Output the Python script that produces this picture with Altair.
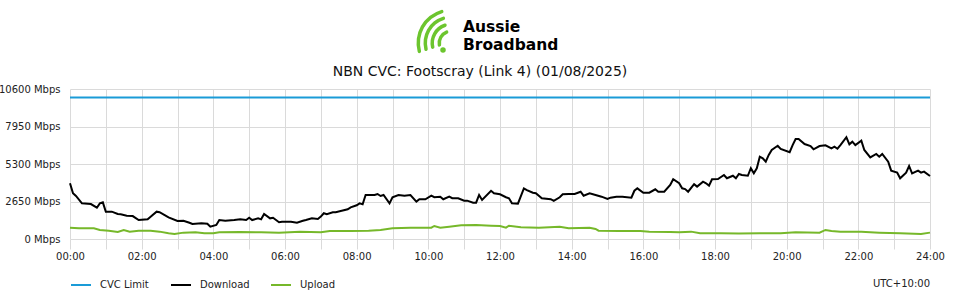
import altair as alt
import pandas as pd

TITLE = "NBN CVC: Footscray (Link 4) (01/08/2025)"
SERIES = ["CVC Limit", "Download", "Upload"]
COLORS = ["#1a9bd7", "#000000", "#76b82a"]

cvc_times = ["00:00", "24:00"]
cvc_values = [10000, 10000]

download_times = [
    "00:00", "00:05", "00:10", "00:20", "00:35", "00:45", "00:50", "00:55", "01:00", "01:10",
    "01:20", "01:25", "01:35", "01:45", "01:55", "02:10", "02:15", "02:25", "02:30", "02:40",
    "02:45", "03:00", "03:10", "03:20", "03:25", "03:40", "03:50", "03:55", "04:05", "04:10",
    "04:20", "04:35", "04:45", "04:55", "05:00", "05:05", "05:15", "05:20", "05:25", "05:35",
    "05:40", "05:50", "05:55", "06:10", "06:20", "06:30", "06:35", "06:45", "06:55", "07:00",
    "07:05", "07:10", "07:20", "07:25", "07:35", "07:45", "07:50", "08:00", "08:05", "08:10",
    "08:15", "08:20", "08:30", "08:35", "08:40", "08:45", "08:55", "09:00", "09:10", "09:20",
    "09:30", "09:40", "09:45", "09:55", "10:05", "10:10", "10:20", "10:25", "10:35", "10:40",
    "10:50", "11:00", "11:05", "11:15", "11:20", "11:25", "11:30", "11:45", "11:50", "12:00",
    "12:10", "12:15", "12:20", "12:30", "12:40", "12:45", "12:55", "13:00", "13:10", "13:25",
    "13:30", "13:40", "13:45", "13:55", "14:05", "14:15", "14:20", "14:30", "14:40", "14:50",
    "15:00", "15:05", "15:15", "15:25", "15:40", "15:45", "15:50", "16:00", "16:10", "16:20",
    "16:25", "16:35", "16:45", "16:50", "17:00", "17:05", "17:10", "17:15", "17:25", "17:30",
    "17:40", "17:45", "17:50", "17:55", "18:05", "18:15", "18:20", "18:30", "18:35", "18:40",
    "18:45", "18:55", "19:00", "19:05", "19:10", "19:15", "19:20", "19:25", "19:30", "19:35",
    "19:45", "19:50", "20:05", "20:10", "20:15", "20:20", "20:30", "20:40", "20:45", "20:55",
    "21:05", "21:15", "21:20", "21:25", "21:30", "21:40", "21:45", "21:50", "21:55", "22:05",
    "22:10", "22:20", "22:30", "22:35", "22:40", "22:50", "22:55", "23:05", "23:10", "23:20",
    "23:25", "23:30", "23:40", "23:45", "23:50", "24:00",
]
download_values = [
    3940, 3230, 3040, 2520, 2470, 2210, 2520, 2590, 1930, 1930,
    1770, 1750, 1650, 1620, 1340, 1390, 1580, 1930, 1890, 1650,
    1530, 1270, 1290, 1150, 1060, 1110, 1080, 870, 990, 1340,
    1290, 1340, 1390, 1340, 1500, 1340, 1460, 1390, 1770, 1460,
    1500, 1180, 1220, 1220, 1150, 1290, 1340, 1460, 1410, 1580,
    1820, 1750, 1890, 1890, 2000, 2100, 2240, 2380, 2520, 2450,
    3110, 3110, 3110, 3180, 3040, 3110, 2520, 2950, 3110, 3060,
    3110, 2640, 2810, 2810, 3060, 2950, 2990, 2810, 2990, 2880,
    2880, 2710, 2710, 2570, 2570, 3110, 2760, 3410, 3230, 3160,
    2950, 2880, 2520, 2500, 3580, 3460, 3270, 3230, 2880, 2810,
    2690, 2950, 3160, 3180, 3180, 3340, 3060, 3230, 3110, 2990,
    2830, 2920, 2990, 2990, 2920, 3410, 3580, 3270, 3270, 3510,
    3340, 3340, 3820, 4220, 3940, 3580, 3530, 3340, 3870, 3700,
    4050, 3940, 3770, 4220, 4240, 4520, 4290, 4470, 4290, 4590,
    4520, 4470, 5000, 4640, 5000, 5820, 5700, 5460, 5940, 6290,
    6590, 6360, 6130, 6640, 7070, 7070, 6710, 6570, 6340, 6570,
    6620, 6410, 6520, 6380, 6640, 7190, 6690, 6880, 6640, 6950,
    6290, 5770, 6010, 5820, 6010, 5460, 4830, 4690, 4290, 4690,
    5160, 4640, 4830, 4690, 4760, 4450,
]

upload_times = [
    "00:00", "00:15", "00:40", "00:50", "01:05", "01:20", "01:30", "01:40", "01:55", "02:15",
    "02:30", "02:45", "02:55", "03:10", "03:30", "03:45", "04:00", "04:10", "04:45", "05:20",
    "05:50", "06:25", "07:00", "07:15", "07:50", "08:20", "08:40", "09:00", "09:30", "10:05",
    "10:10", "10:20", "10:35", "10:55", "11:20", "11:45", "12:00", "12:10", "12:15", "12:35",
    "13:05", "13:40", "13:55", "14:30", "14:40", "14:45", "15:20", "15:55", "16:10", "16:45",
    "17:00", "17:20", "17:35", "18:10", "18:40", "19:15", "19:50", "20:15", "20:55", "21:05",
    "21:15", "21:30", "22:05", "22:35", "23:10", "23:45", "24:00",
]
upload_values = [
    800, 760, 760, 640, 590, 500, 640, 520, 590, 590,
    520, 400, 350, 450, 470, 400, 400, 470, 500, 470,
    450, 520, 470, 570, 570, 590, 640, 760, 800, 800,
    920, 800, 870, 970, 990, 940, 920, 800, 940, 830,
    800, 870, 760, 800, 710, 590, 570, 570, 520, 500,
    470, 520, 400, 400, 390, 400, 400, 470, 450, 640,
    570, 520, 520, 450, 400, 350, 450,
]

y_ticks = [0, 2650, 5300, 7950, 10600]
x_ticks = list(range(0, 25))
logo_words = ["Aussie", "Broadband"]
footer_note = "UTC+10:00"


def to_hours(t):
    h, m = t.split(":")
    return int(h) + int(m) / 60.0


rows = []
for name, times, vals in [
    ("CVC Limit", cvc_times, cvc_values),
    ("Download", download_times, download_values),
    ("Upload", upload_times, upload_values),
]:
    for t, v in zip(times, vals):
        rows.append({"series": name, "hour": to_hours(t), "mbps": v})
df = pd.DataFrame(rows)

FONT = "DejaVu Sans"
GRID = "#dadada"
TEXT = "#222222"

lines = alt.Chart(df).mark_line(strokeWidth=2, interpolate="linear").encode(
    x=alt.X(
        "hour:Q",
        scale=alt.Scale(domain=[0, 24], nice=False, zero=False),
        axis=alt.Axis(
            values=x_ticks,
            title=None,
            grid=True,
            gridColor=GRID,
            domain=False,
            ticks=True,
            tickSize=10,
            tickColor=GRID,
            labelPadding=2,
            labelFlush=False,
            labelFontSize=10,
            labelFont=FONT,
            labelColor=TEXT,
            labelExpr="datum.value % 2 == 0 ? ((datum.value < 10 ? '0' : '') + datum.value + ':00') : ''",
        ),
    ),
    y=alt.Y(
        "mbps:Q",
        scale=alt.Scale(domain=[0, 10600], nice=False),
        axis=alt.Axis(
            values=y_ticks,
            title=None,
            grid=True,
            gridColor=GRID,
            domain=False,
            ticks=False,
            labelPadding=10,
            labelFlush=False,
            labelFontSize=10,
            labelFont=FONT,
            labelColor=TEXT,
            labelExpr="datum.value + ' Mbps'",
        ),
    ),
    color=alt.Color(
        "series:N",
        scale=alt.Scale(domain=SERIES, range=COLORS),
        legend=alt.Legend(
            title=None,
            orient="none",
            legendX=0,
            legendY=185,
            direction="horizontal",
            columns=3,
            gridAlign="all",
            columnPadding=17,
            symbolType="stroke",
            symbolStrokeWidth=2,
            symbolSize=400,
            labelOffset=8,
            labelFontSize=10,
            labelFont=FONT,
            labelColor=TEXT,
        ),
    ),
    order=alt.Order("hour:Q"),
)

title_mark = alt.Chart(pd.DataFrame({"t": [TITLE]})).mark_text(
    align="center", baseline="alphabetic", font=FONT, fontSize=14, color="#111111"
).encode(x=alt.value(410), y=alt.value(-13), text="t:N")

logo_text = alt.Chart(pd.DataFrame({"k": [0]})).mark_text(
    text=logo_words, lineHeight=18.3,
    align="left", baseline="alphabetic", font="DejaVu Sans", fontWeight="bold", fontSize=15.5,
    color="#000000"
).encode(x=alt.value(393), y=alt.value(-57))

swirl_layers = []
for r in [10, 17, 24, 31]:
    swirl_layers.append(
        alt.Chart(pd.DataFrame({"k": [0]})).mark_arc(
            innerRadius=r, outerRadius=r + 3.5, theta=4.4, theta2=6.05, color="#6cc52e", cornerRadius=2
        ).encode(x=alt.value(381), y=alt.value(-46))
    )
dot = alt.Chart(pd.DataFrame({"k": [0]})).mark_circle(size=30, color="#6cc52e", opacity=1).encode(
    x=alt.value(373), y=alt.value(-39)
)

note = alt.Chart(pd.DataFrame({"t": [footer_note]})).mark_text(
    align="right", baseline="middle", font=FONT, fontSize=10, color=TEXT
).encode(x=alt.value(860), y=alt.value(195), text="t:N")

chart = alt.layer(lines, title_mark, logo_text, *swirl_layers, dot, note).properties(
    width=860,
    height=150,
    autosize=alt.AutoSizeParams(type="none"),
    padding={"left": 70, "top": 89, "right": 30, "bottom": 61},
    background="#ffffff",
).configure_view(stroke=None)

chart.save("out.html", embed_options={"renderer": "svg", "actions": False})
